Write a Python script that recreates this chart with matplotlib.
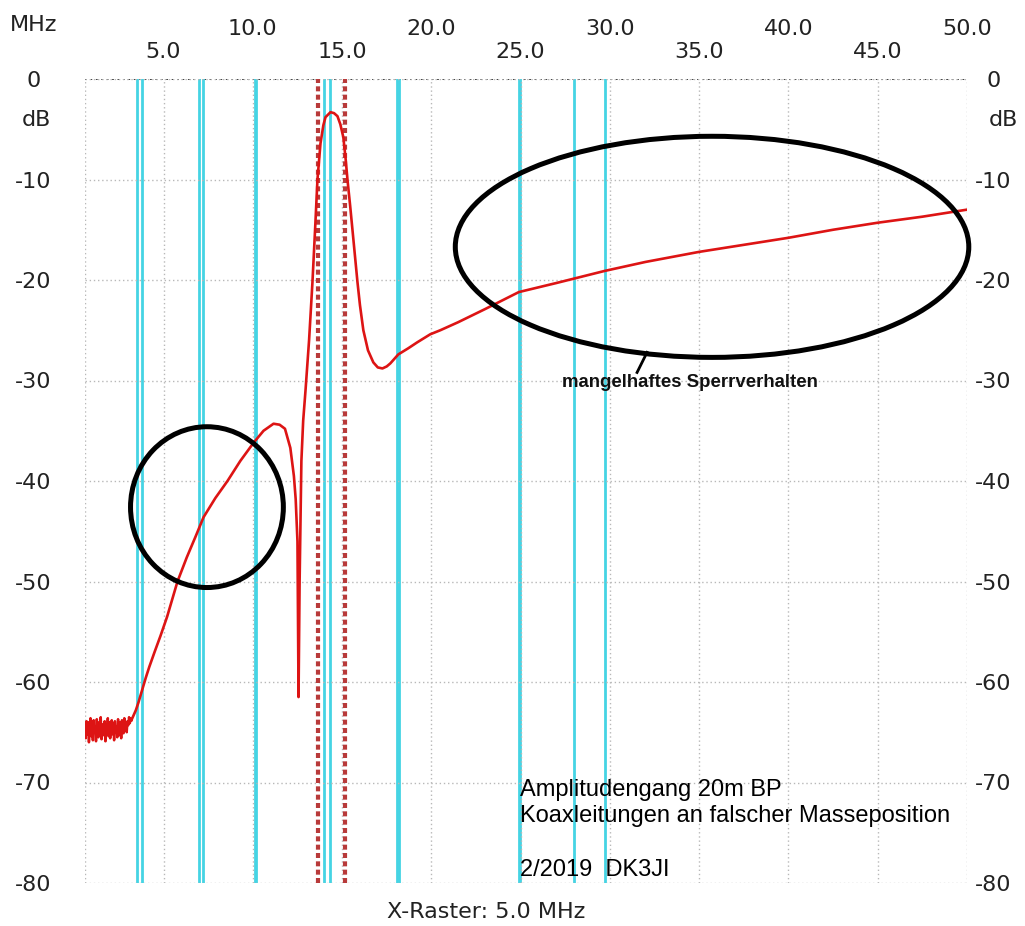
import numpy as np
import matplotlib.pyplot as plt
from matplotlib.patches import Ellipse

# measured trace: noise floor at the low end (dB), then the read-off curve
noise_db = [-64.3, -65.6, -63.9, -65.2, -64.0, -66.0, -64.5, -63.6, -65.4, -64.1,
            -65.8, -63.8, -65.0, -64.4, -65.9, -63.7, -64.9, -65.5, -64.0, -65.1,
            -63.5, -65.7, -64.6, -64.2, -65.3, -63.9, -65.9, -64.3, -64.8, -63.6,
            -65.4, -64.0, -65.6, -64.7, -63.8, -65.2, -64.1, -65.8, -63.9, -65.0,
            -64.4, -65.5, -63.7, -64.9, -65.3, -64.0, -65.6, -63.8, -64.6, -65.1,
            -63.6, -64.8, -64.2, -65.0, -63.9, -64.3, -63.5, -64.1, -63.6, -63.8]
noise_start, noise_end = 0.6, 3.2

freq_mhz = [3.3, 3.45, 3.6, 3.8, 4.0, 4.2, 4.5, 4.83, 5.2, 5.78, 6.3, 6.8, 7.24, 7.9,
            8.58, 9.3, 10.04, 10.6, 11.16, 11.5, 11.8, 12.1, 12.3, 12.4, 12.5, 12.56,
            12.62, 12.72, 12.82, 12.95, 13.15, 13.34, 13.5, 13.62, 13.79, 13.95, 14.07,
            14.35, 14.55, 14.74, 14.9, 15.07, 15.2, 15.3, 15.45, 15.58, 15.72, 15.86,
            16.0, 16.19, 16.45, 16.75, 17.0, 17.26, 17.5, 17.7, 18.15, 18.7, 19.21,
            19.94, 20.5, 21.5, 23.0, 24.9, 27.0, 29.7, 32.0, 35.0, 37.5, 40.0, 42.5,
            45.0, 47.5, 50.0]
level_db = [-63.4, -62.8, -62.0, -60.8, -59.6, -58.5, -57.0, -55.4, -53.5, -50.0, -47.6,
            -45.5, -43.6, -41.7, -40.0, -38.0, -36.2, -35.0, -34.3, -34.4, -34.8, -36.7,
            -39.5, -41.8, -46.0, -61.5, -50.0, -38.0, -34.0, -31.0, -26.0, -20.2, -14.5,
            -10.0, -6.4, -4.6, -3.8, -3.3, -3.4, -3.7, -4.5, -5.8, -8.0, -10.0, -12.6,
            -15.0, -17.6, -20.2, -22.5, -25.0, -27.0, -28.2, -28.7, -28.8, -28.6, -28.3,
            -27.4, -26.8, -26.2, -25.4, -25.0, -24.2, -22.9, -21.2, -20.3, -19.1, -18.2,
            -17.2, -16.5, -15.8, -15.0, -14.3, -13.7, -13.0]

# amateur band edges (cyan markers) and the two red markers
band_edges = [3.5, 3.8, 7.0, 7.2, 10.1, 10.15, 14.0, 14.35, 18.068, 18.168,
              24.89, 24.99, 28.0, 29.7]
marker_mhz = [13.65, 15.15]

x_major = [10, 20, 30, 40, 50]
x_minor = [5, 15, 25, 35, 45]
y_ticks = [0, -10, -20, -30, -40, -50, -60, -70, -80]

W, H = 1025, 926
fig = plt.figure(figsize=(W / 100, H / 100), dpi=100)
L, R, T, B = 85, 967, 79, 883
ax = fig.add_axes([L / W, 1 - B / H, (R - L) / W, (B - T) / H])
ax.set_xlim(0.6, 50)
ax.set_ylim(-80, 0)

tick_font = dict(family='DejaVu Sans', size=16, color='#222222')

# x ticks: two rows on top
ax.xaxis.tick_top()
ax.set_xticks(x_major)
ax.set_xticklabels(['%.1f' % v for v in x_major], **tick_font)
ax.set_xticks(x_minor, minor=True)
ax.set_xticklabels(['%.1f' % v for v in x_minor], minor=True, **tick_font)
ax.tick_params(axis='x', which='major', length=0, pad=29)
ax.tick_params(axis='x', which='minor', length=0, pad=12)

# y ticks left and right, centred
ax.set_yticks(y_ticks)
ax.set_yticklabels([str(v) for v in y_ticks], **tick_font)
ax.tick_params(axis='y', length=0, pad=37)
for lab in ax.get_yticklabels():
    lab.set_ha('center')
ax2 = ax.twinx()
ax2.set_ylim(-80, 0)
ax2.set_yticks(y_ticks)
ax2.set_yticklabels([str(v) for v in y_ticks], **tick_font)
ax2.tick_params(axis='y', length=0, pad=19)
for lab in ax2.get_yticklabels():
    lab.set_ha('center')

for a in (ax, ax2):
    for s in a.spines.values():
        s.set_visible(False)

ax.grid(which='both', color='#b8b8b8', ls=(0, (1, 2)), lw=1, zorder=0)
ax.axvline(0.6, color='#b8b8b8', ls=(0, (1, 2)), lw=1, zorder=0)
ax.axhline(0, color='#333333', ls=(0, (1, 2)), lw=1.3, zorder=0)

for f in band_edges:
    ax.axvline(f, color='#45d4e4', lw=2, zorder=1)
for f in marker_mhz:
    ax.axvline(f, color='#b83a3a', lw=3, ls=(0, (1.2, 0.8)), zorder=2)

nf = np.linspace(noise_start, noise_end, len(noise_db))
ax.plot(nf, noise_db, color='#dd1414', lw=1.8, zorder=3)
ax.plot([noise_end] + freq_mhz, [noise_db[-1]] + level_db, color='#dd1414', lw=1.9, zorder=3)

# highlight ellipses
ax.add_patch(Ellipse((7.43, -42.6), 8.56, 16.0, fill=False, ec='black', lw=3.6,
                     zorder=4, clip_on=False))
ax.add_patch(Ellipse((35.72, -16.7), 28.76, 22.0, fill=False, ec='black', lw=3.6,
                     zorder=4, clip_on=False))
ax.plot([32.08, 31.52], [-27.2, -29.2], color='black', lw=2, zorder=4)
ax.text(34.5, -30.2, 'mangelhaftes Sperrverhalten', ha='center', va='center',
        family='Liberation Sans', weight='bold', size=13.4, color='#111111', zorder=5)


def fx(px):
    return px / W


def fy(py):
    return 1 - py / H


fig.text(fx(34), fy(25), 'MHz', ha='center', va='center', **tick_font)
fig.text(fx(36), fy(120), 'dB', ha='center', va='center', **tick_font)
fig.text(fx(1003), fy(120), 'dB', ha='center', va='center', **tick_font)
fig.text(fx(486), fy(912), 'X-Raster: 5.0 MHz', ha='center', va='center', **tick_font)

note_font = dict(family='Liberation Sans', size=17, color='black', ha='left', va='center')
fig.text(fx(520), fy(790), 'Amplitudengang 20m BP', **note_font)
fig.text(fx(520), fy(816), 'Koaxleitungen an falscher Masseposition', **note_font)
fig.text(fx(520), fy(870), '2/2019  DK3JI', **note_font)

fig.savefig('out.png', dpi=100, facecolor='white')
plt.close(fig)
